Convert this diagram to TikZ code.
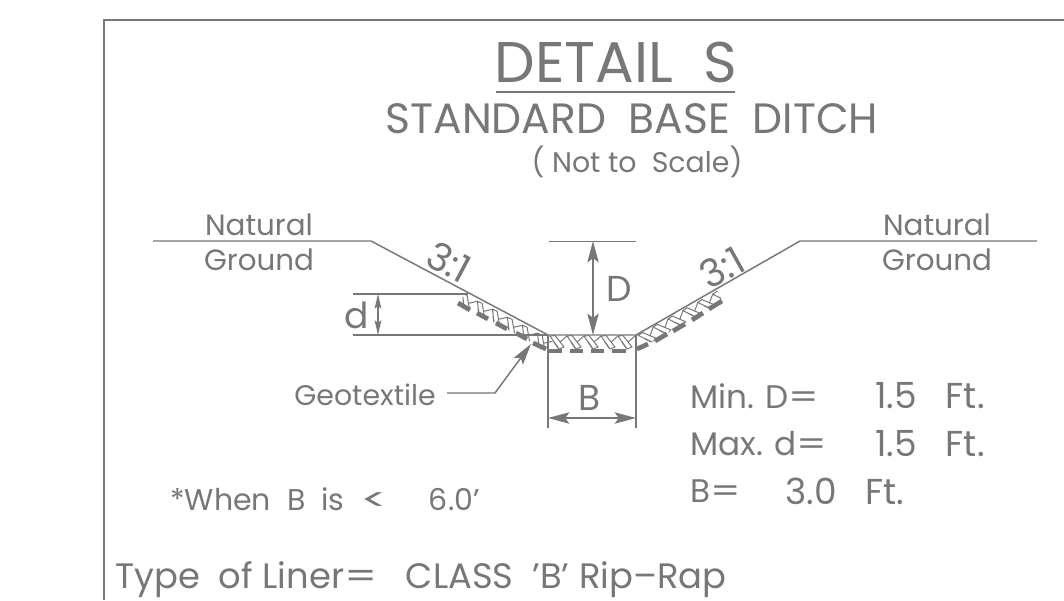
\documentclass[tikz,border=0pt]{standalone}
\usepackage{fontspec}
\setmainfont{Poppins}
\usetikzlibrary{arrows.meta}
\definecolor{ink}{HTML}{777777}
\newcommand{\fs}[1]{\fontsize{#1}{#1}\selectfont}
\newcommand{\stonerun}[1]{%
 \foreach \s in {0,17,...,#1}{
  \draw[stone] (\s+1,1)--(\s+6,0.5)--(\s+15,12)--(\s+10,14)--cycle;
  \draw[stone] (\s+18,1)--(\s+11,7);
  \draw[stone] (\s+9,13)--(\s+5,7);
 }}
\tikzset{
 ln/.style={draw=ink,line width=1.1pt},
 stone/.style={draw=ink,line width=0.75pt},
 dashmark/.style={draw=ink,line width=3.5pt},
 dim/.style={draw=ink,line width=1.1pt,{Stealth[length=16pt,width=8.5pt,inset=3pt]}-{Stealth[length=16pt,width=8.5pt,inset=3pt]}},
 smalldim/.style={draw=ink,line width=1.1pt,{Stealth[length=11pt,width=5pt,inset=2pt]}-{Stealth[length=11pt,width=5pt,inset=2pt]}},
 lab/.style={text=ink,inner sep=0pt,anchor=center},
 labw/.style={text=ink,inner sep=0pt,anchor=west},
}
\begin{document}
\begin{tikzpicture}[x=0.75pt,y=-0.75pt]
\useasboundingbox (0,0) rectangle (1064,600);
% frame
\coordinate (fb) at (104,600); \coordinate (ft) at (104,20); \coordinate (fr) at (1064,20);
\draw[ln] (fb)--(ft)--(fr);
% titles
\node[lab,font=\fs{43}] (title) at (616,62) {DETAIL\ \ S};
\coordinate (ul) at (496,92); \coordinate (ur) at (735,92);
\draw[ln] (ul)--(ur);
\node[lab,font=\fs{31.8}] (sub) at (632,119) {STANDARD\ \ BASE\ \ DITCH};
\node[lab,font=\fs{21.3}] (scale) at (637,162) {( Not to\ \ Scale)};
% riprap
\begin{scope}
\clip (466,293)--(548,335)--(636,335)--(717,290)--(722,301)--(637,351)--(548,351)--(458,303)--cycle;
\begin{scope}[shift={(549,335)}] \stonerun{84} \end{scope}
\begin{scope}[shift={(462,292)},rotate=-28] \stonerun{98} \end{scope}
\begin{scope}[shift={(637,335)},rotate=29] \stonerun{98} \end{scope}
\end{scope}
% ground profile
\coordinate (g1) at (153,241); \coordinate (g2) at (371,241); \coordinate (g3) at (548,335);
\coordinate (g4) at (636,335); \coordinate (g5) at (800,241); \coordinate (g6) at (1037,241);
\draw[ln] (g1)--(g2)--(g3)--(g4)--(g5)--(g6);
% geotextile dashes
\foreach \a/\b/\c/\d in {548/351/562/351,570/351/583/351,591/351/604/351,612/351/626/351,
 458/303/470/310,477/313/488/319,496/323/507/329,516/333/527/339,533/343/546/349,
 637/349/648/344,655/341/667/334,673/331/685/324,692/320/703/313,709/309/722/301}
 \draw[dashmark] (\a,\b)--(\c,\d);
% d dimension
\coordinate (d1) at (353,294); \coordinate (d2) at (468,294); \coordinate (d3) at (353,335);
\coordinate (dt) at (378,294); \coordinate (db) at (378,335);
\draw[ln] (d1)--(d2); \draw[ln] (d3)--(g3);
\draw[smalldim] (dt)--(db);
\node[lab,font=\fs{27}] (dlab) at (357,315) {d};
% D dimension
\coordinate (D1) at (549,241.5); \coordinate (D2) at (636,241.5);
\coordinate (Dt) at (593,241); \coordinate (Db) at (593,335);
\draw[ln] (D1)--(D2);
\draw[dim] (Dt)--(Db);
\node[lab,font=\fs{27}] (Dlab) at (619,289) {D};
% B dimension
\coordinate (B1) at (548,428); \coordinate (B2) at (636,428);
\coordinate (Bl) at (548,418); \coordinate (Br) at (636,418);
\draw[ln] (g3)--(B1); \draw[ln] (g4)--(B2);
\draw[dim] (Bl)--(Br);
\node[lab,font=\fs{27}] (Blab) at (590,398) {B};
% geotextile
\node[lab,font=\fs{21.3}] (geo) at (365,395) {Geotextile};
\coordinate (gl1) at (447,393); \coordinate (gl2) at (495,393); \coordinate (gl3) at (531,344);
\draw[ln,-{Stealth[length=16pt,width=8.5pt,inset=3pt]}] (gl1)--(gl2)--(gl3);
% ground labels
\node[lab,font=\fs{22}] (nl) at (259,225) {Natural};
\node[lab,font=\fs{22}] (gl) at (259,260) {Ground};
\node[lab,font=\fs{22}] (nr) at (937,225) {Natural};
\node[lab,font=\fs{22}] (gr) at (937,260) {Ground};
\node[lab,font=\fs{29},rotate=-28] (sl) at (449,262) {3:1};
\node[lab,font=\fs{29},rotate=29] (sr) at (722,268) {3:1};
% notes
\node[labw,font=\fs{24.5}] (n1) at (690,396) {Min. D\scalebox{1.3}[1]{=}};
\node[labw,font=\fs{27}] (n2) at (875,396) {1.5\ \ \ Ft.};
\node[labw,font=\fs{24.5}] (n3) at (690,444) {Max. d\scalebox{1.3}[1]{=}};
\node[labw,font=\fs{27}] (n4) at (875,444) {1.5\ \ \ Ft.};
\node[labw,font=\fs{24.5}] (n5) at (690,491) {B\scalebox{1.3}[1]{=}};
\node[labw,font=\fs{27}] (n6) at (785,491) {3.0\ \ \ Ft.};
\node[labw,font=\fs{22.5}] (n7) at (170,499) {*When\ \ B\ \ is\ \ \scalebox{1.7}[1]{<}\ \ \ \ \ 6.0'};
\node[labw,font=\fs{26.5}] (n8) at (115,580) {Type\ \ of\ Liner\scalebox{1.3}[1]{=}\ \ \ CLASS\ \ 'B'\ Rip–Rap};
\end{tikzpicture}
\end{document}
